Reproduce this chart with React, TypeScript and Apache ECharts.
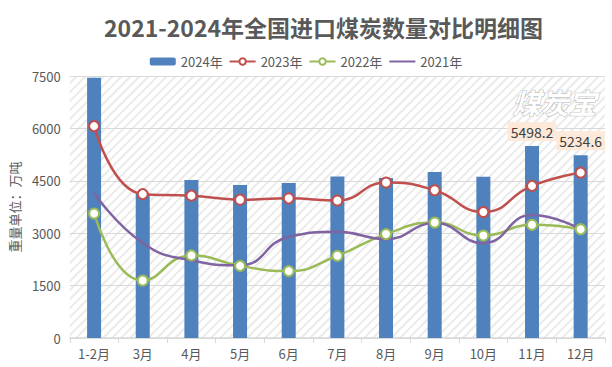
import React, { useEffect, useRef } from "react";
import * as echarts from "echarts";

const categories = ["1-2月", "3月", "4月", "5月", "6月", "7月", "8月", "9月", "10月", "11月", "12月"];
const bar2024 = [7450, 4125, 4520, 4382, 4440, 4620, 4580, 4755, 4615, 5498.2, 5234.6];
const line2023 = [6065, 4118, 4075, 3960, 3998, 3935, 4450, 4230, 3606, 4355, 4734];
const line2022 = [3565, 1645, 2365, 2065, 1915, 2355, 2975, 3305, 2935, 3240, 3115];
const line2021 = [4150, 2720, 2220, 2080, 2895, 3040, 2830, 3290, 2715, 3520, 3110];
const yTicks = { min: 0, max: 7500, interval: 1500 };
const labeledIdx = [9, 10];

function makeHatch(): HTMLCanvasElement {
  const c = document.createElement("canvas");
  c.width = 9;
  c.height = 9;
  const ctx = c.getContext("2d")!;
  ctx.fillStyle = "#ffffff";
  ctx.fillRect(0, 0, 9, 9);
  ctx.strokeStyle = "#ebebeb";
  ctx.lineWidth = 2;
  ctx.beginPath();
  ctx.moveTo(-1, 10);
  ctx.lineTo(10, -1);
  ctx.moveTo(-2, 2);
  ctx.lineTo(2, -2);
  ctx.moveTo(7, 11);
  ctx.lineTo(11, 7);
  ctx.stroke();
  return c;
}

export default function App() {
  const ref = useRef<HTMLDivElement>(null);
  useEffect(() => {
    document.body.style.margin = "0";
    const chart = echarts.init(ref.current!, null, { renderer: "svg" });
    const hatch = makeHatch();
    const txt = "#595959";
    const font = "'Noto Sans CJK SC', 'Noto Sans', sans-serif";
    const lineSeries = (name: string, data: number[], color: string, sym: boolean) => ({
      name,
      type: "line",
      data,
      smooth: 0.5,
      symbol: sym ? "emptyCircle" : "none",
      symbolSize: 10,
      showSymbol: sym,
      z: 3,
      lineStyle: { color, width: 2.5 },
      itemStyle: { color, borderWidth: 2 },
    });
    chart.setOption({
      animation: false,
      backgroundColor: "#ffffff",
      textStyle: { fontFamily: font },
      title: {
        text: "2021-2024年全国进口煤炭数量对比明细图",
        left: 99,
        top: 10,
        textStyle: { fontSize: 23, fontWeight: "bold", color: "#595959", fontFamily: font },
      },
      legend: {
        top: 50,
        left: "center",
        itemWidth: 26,
        itemHeight: 8,
        itemGap: 6,
        textStyle: { fontSize: 13, color: txt },
        data: [
          "2024年",
          "2023年",
          "2022年",
          { name: "2021年", itemStyle: { opacity: 0 } },
        ],
      },
      grid: {
        left: 59,
        right: 7,
        top: 76,
        bottom: 29,
        show: true,
        borderWidth: 0,
        backgroundColor: { image: hatch, repeat: "repeat" },
      },
      graphic: [
        {
          type: "text",
          right: 15,
          top: 87,
          z: 1,
          style: {
            text: "煤炭宝",
            font: "italic bold 28px 'Noto Sans CJK SC', sans-serif",
            fill: "#ffffff",
            stroke: "#b5b5b5",
            lineWidth: 1,
          },
        },
      ],
      xAxis: {
        type: "category",
        data: categories,
        boundaryGap: true,
        axisLine: { lineStyle: { color: "#d9d9d9", width: 1.5 } },
        axisTick: { show: true, length: 5, lineStyle: { color: "#d9d9d9" } },
        axisLabel: { color: txt, fontSize: 13, margin: 9 },
      },
      yAxis: {
        type: "value",
        min: yTicks.min,
        max: yTicks.max,
        interval: yTicks.interval,
        name: "重量单位：万吨",
        nameLocation: "middle",
        nameRotate: 90,
        nameGap: 43,
        nameTextStyle: { color: txt, fontSize: 13 },
        axisLine: { show: false },
        axisTick: { show: false },
        axisLabel: { color: txt, fontSize: 13, margin: 9, formatter: (v: number) => String(v) },
        splitLine: { lineStyle: { color: "#d9d9d9", width: 1 } },
      },
      series: [
        {
          name: "2024年",
          type: "bar",
          barWidth: 14,
          z: 2,
          itemStyle: { color: "#4f81bd" },
          data: bar2024.map((v, i) =>
            labeledIdx.includes(i)
              ? {
                  value: v,
                  label: {
                    show: true,
                    position: "top",
                    distance: 5,
                    color: "#404040",
                    fontSize: 14,
                    backgroundColor: "#fde9d9",
                    padding: [3, 3, 2, 3],
                  },
                }
              : v
          ),
        },
        lineSeries("2023年", line2023, "#c0504d", true),
        lineSeries("2022年", line2022, "#9bbb59", true),
        lineSeries("2021年", line2021, "#8064a2", false),
      ],
    });
    return () => chart.dispose();
  }, []);
  return <div ref={ref} style={{ width: 612, height: 367 }} />;
}
